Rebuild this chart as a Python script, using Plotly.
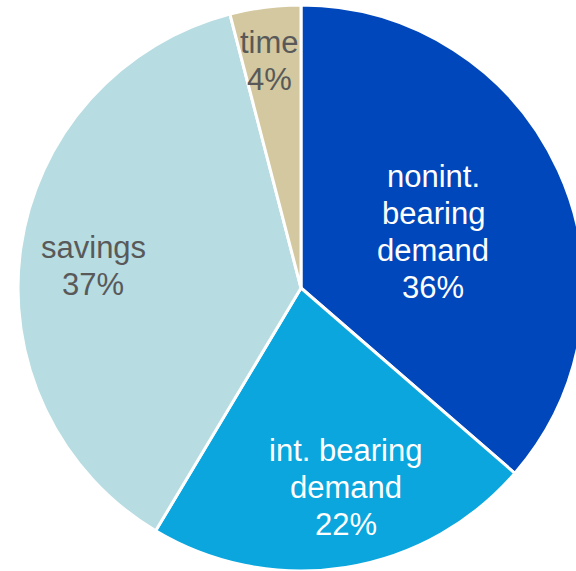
import math
import plotly.graph_objects as go

# Deposit mix by account type
labels = ["nonint.<br>bearing<br>demand", "int. bearing<br>demand", "savings", "time"]
shares = [36, 22, 37, 4]
colors = ["#0047BB", "#0AA6DD", "#B7DCE1", "#D3C8A0"]
text_colors = ["white", "white", "#595959", "#595959"]

# label placement inside each slice: fraction of radius, angular nudge (deg)
label_radius = [0.507, 0.721, 0.739, 0.81]
label_nudge = [1.5, -3.6, -2.2, -0.7]

FONT = "Liberation Sans, Arial, sans-serif"
FONT_SIZE = 31
LINE_GAP = 37  # px between baselines

W, H = 592, 571
M = dict(l=10, r=0, t=5, b=0)
plot_w = W - M["l"] - M["r"]
plot_h = H - M["t"] - M["b"]
R = min(plot_w, plot_h) / 2

fig = go.Figure(
    go.Pie(
        labels=[l.replace("<br>", " ") for l in labels],
        values=shares,
        sort=False,
        direction="clockwise",
        rotation=0,
        marker=dict(colors=colors, line=dict(color="white", width=3)),
        textinfo="none",
        hoverinfo="label+percent",
        showlegend=False,
    )
)

# slice labels, one annotation per line so the line spacing stays tight
total = sum(shares)
cum = 0
for lab, val, col, rf, nudge in zip(labels, shares, text_colors, label_radius, label_nudge):
    mid = math.radians((cum + val / 2) / total * 360 + nudge)
    cum += val
    x = 0.5 + rf * R * math.sin(mid) / plot_w
    y = 0.5 + rf * R * math.cos(mid) / plot_h
    lines = lab.split("<br>") + [f"{val}%"]
    n = len(lines)
    for i, line in enumerate(lines):
        fig.add_annotation(
            x=x, y=y, xref="paper", yref="paper",
            text=line, showarrow=False,
            xanchor="center", yanchor="middle",
            yshift=((n - 1) / 2 - i) * LINE_GAP,
            font=dict(family=FONT, size=FONT_SIZE, color=col),
        )

fig.update_layout(
    width=W,
    height=H,
    autosize=False,
    margin=M,
    paper_bgcolor="white",
    plot_bgcolor="white",
)

fig.write_html("out.html", post_script="document.body.style.overflow='hidden';document.body.style.margin='0';")
